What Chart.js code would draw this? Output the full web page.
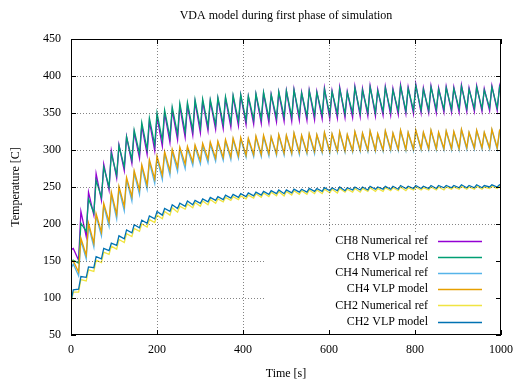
<!DOCTYPE html>
<html>
<head>
<meta charset="utf-8">
<script src="https://cdn.jsdelivr.net/npm/chart.js@4.4.1/dist/chart.umd.min.js"></script>
<style>
  html, body { margin: 0; padding: 0; background: #fff; }
  canvas { display: block; }
</style>
</head>
<body>
<canvas id="chart" width="513" height="386"></canvas>
<script>
// Time axis: one trough (start of heating) and one peak per cycle
const troughTimes = [
  0, 17.7, 35.4, 53.1, 70.8, 88.5, 106.2, 123.9, 141.6, 159.3,
  177, 194.7, 212.4, 230.1, 247.8, 265.5, 283.2, 300.9, 318.6, 336.3,
  354, 371.7, 389.4, 407.1, 424.8, 442.5, 460.2, 477.9, 495.6, 513.3,
  531, 548.7, 566.4, 584.1, 601.8, 619.5, 637.2, 654.9, 672.6, 690.3,
  708, 725.7, 743.4, 761.1, 778.8, 796.5, 814.2, 831.9, 849.6, 867.3,
  885, 902.7, 920.4, 938.1, 955.8, 973.5, 991.2, 1000
];
const peakTimes = [
  5.3, 23, 40.7, 58.4, 76.1, 93.8, 111.5, 129.2, 146.9, 164.6,
  182.3, 200, 217.7, 235.4, 253.1, 270.8, 288.5, 306.2, 323.9, 341.6,
  359.3, 377, 394.7, 412.4, 430.1, 447.8, 465.5, 483.2, 500.9, 518.6,
  536.3, 554, 571.7, 589.4, 607.1, 624.8, 642.5, 660.2, 677.9, 695.6,
  713.3, 731, 748.7, 766.4, 784.1, 801.8, 819.5, 837.2, 854.9, 872.6,
  890.3, 908, 925.7, 943.4, 961.1, 978.8, 996.5
];

// CH8
const ch8RefPeaks = [
  167, 217, 243, 268, 281, 299, 307, 318, 324, 333,
  339, 345, 350, 354, 359, 361, 365, 366, 366, 369,
  370, 372, 374, 372, 375, 377, 375, 378, 380, 382,
  378, 381, 379, 384, 380, 385, 379, 386, 383, 387,
  382, 386, 383, 388, 385, 389, 384, 387, 384, 386,
  385, 388, 384, 387, 383, 387, 386
];
const ch8RefTroughs = [
  165, 151, 183, 212, 232, 246, 262, 272, 282, 289,
  294, 299, 305, 310, 314, 317, 320, 323, 326, 328,
  329, 331, 333, 334, 335, 336, 337, 338, 339, 339,
  340, 340, 341, 342, 342, 343, 344, 344, 345, 346,
  346, 347, 347, 348, 349, 349, 350, 350, 350, 351,
  351, 351, 352, 352, 352, 353, 353, 376
];
const ch8VlpPeaks = [
  151, 201, 234, 259, 277, 295, 306, 318, 327, 337,
  343, 350, 354, 358, 363, 364, 368, 369, 368, 371,
  372, 374, 375, 373, 376, 378, 375, 379, 380, 381,
  377, 380, 378, 382, 379, 383, 378, 384, 381, 385,
  380, 384, 381, 386, 383, 387, 382, 385, 382, 384,
  383, 386, 382, 385, 381, 385, 384
];
const ch8VlpTroughs = [
  150, 147, 190, 215, 236, 250, 266, 277, 287, 295,
  301, 307, 313, 317, 321, 324, 327, 330, 332, 334,
  335, 337, 339, 340, 341, 342, 343, 344, 345, 345,
  346, 346, 347, 348, 348, 349, 349, 350, 350, 351,
  351, 352, 352, 353, 353, 354, 354, 354, 355, 355,
  355, 356, 356, 356, 356, 357, 357, 375
];

// CH4
const ch4RefPeaks = [
  146, 178, 198, 211, 225, 240, 248, 260, 269, 277,
  284, 289, 295, 298, 301, 302, 304, 306, 308, 310,
  312, 314, 315, 314, 317, 318, 317, 320, 319, 322,
  319, 321, 320, 323, 321, 324, 320, 324, 322, 325,
  321, 325, 322, 326, 323, 326, 323, 326, 323, 325,
  324, 327, 323, 326, 323, 327, 325
];
const ch4RefTroughs = [
  140, 130, 153, 169, 184, 197, 207, 218, 231, 240,
  247, 255, 260, 266, 271, 275, 279, 281, 283, 285,
  286, 287, 289, 290, 291, 291, 292, 293, 293, 294,
  294, 295, 295, 296, 296, 297, 297, 297, 298, 298,
  298, 298, 299, 299, 299, 299, 300, 300, 300, 300,
  300, 300, 301, 301, 301, 301, 301, 320
];
const ch4VlpPeaks = [
  150, 181, 201, 214, 228, 243, 251, 263, 272, 280,
  287, 292, 298, 301, 304, 305, 307, 309, 311, 312,
  314, 316, 317, 316, 319, 320, 318, 321, 320, 323,
  320, 322, 321, 324, 322, 325, 321, 325, 323, 326,
  322, 326, 323, 327, 324, 327, 324, 327, 324, 326,
  325, 328, 324, 327, 324, 328, 326
];
const ch4VlpTroughs = [
  148, 135, 158, 174, 189, 203, 213, 224, 237, 246,
  253, 261, 266, 272, 277, 281, 284, 286, 288, 289,
  290, 291, 292, 293, 294, 294, 295, 295, 296, 296,
  297, 297, 298, 298, 298, 299, 299, 299, 300, 300,
  300, 300, 301, 301, 301, 301, 302, 302, 302, 302,
  302, 302, 303, 303, 303, 303, 303, 322
];

// CH2
const ch2RefPeaks = [
  108, 125, 138, 151, 162, 170, 179, 187, 194, 200,
  206, 212, 217, 222, 224, 227, 229, 231, 233, 234,
  236, 237, 238, 239, 241, 242, 243, 244, 244, 245,
  245, 246, 246, 247, 247, 248, 247, 248, 248, 249,
  248, 249, 249, 250, 249, 250, 249, 250, 250, 250,
  250, 251, 250, 251, 250, 251, 251
];
const ch2RefTroughs = [
  93, 108, 123, 136, 148, 159, 166, 175, 183, 190,
  196, 202, 207, 212, 216, 220, 222, 224, 226, 228,
  230, 232, 233, 234, 235, 236, 237, 238, 238, 239,
  240, 240, 241, 241, 242, 242, 243, 243, 243, 244,
  244, 244, 245, 245, 245, 246, 246, 246, 246, 246,
  247, 247, 247, 247, 247, 248, 248, 250
];
const ch2VlpPeaks = [
  111, 129, 142, 156, 167, 174, 184, 192, 199, 205,
  211, 217, 221, 226, 228, 231, 232, 234, 236, 237,
  239, 240, 241, 242, 243, 244, 245, 246, 246, 247,
  247, 248, 248, 249, 249, 250, 249, 250, 250, 251,
  250, 251, 251, 252, 251, 252, 251, 252, 252, 252,
  252, 253, 252, 253, 252, 253, 253
];
const ch2VlpTroughs = [
  95, 112, 128, 141, 153, 164, 171, 180, 188, 195,
  201, 207, 212, 217, 221, 224, 226, 228, 230, 232,
  233, 235, 236, 237, 238, 239, 240, 241, 241, 242,
  243, 243, 244, 244, 245, 245, 245, 246, 246, 246,
  247, 247, 247, 247, 248, 248, 248, 248, 248, 249,
  249, 249, 249, 249, 249, 250, 250, 252
];

const xTicks = [0, 200, 400, 600, 800, 1000];
const yTicks = [50, 100, 150, 200, 250, 300, 350, 400, 450];

const seriesDefs = [
  { label: 'CH8 Numerical ref', color: '#9400d3', peaks: ch8RefPeaks, troughs: ch8RefTroughs },
  { label: 'CH8 VLP model',     color: '#009e73', peaks: ch8VlpPeaks, troughs: ch8VlpTroughs },
  { label: 'CH4 Numerical ref', color: '#56b4e9', peaks: ch4RefPeaks, troughs: ch4RefTroughs },
  { label: 'CH4 VLP model',     color: '#e69f00', peaks: ch4VlpPeaks, troughs: ch4VlpTroughs },
  { label: 'CH2 Numerical ref', color: '#f0e442', peaks: ch2RefPeaks, troughs: ch2RefTroughs },
  { label: 'CH2 VLP model',     color: '#0072b2', peaks: ch2VlpPeaks, troughs: ch2VlpTroughs }
];

const FONT = '12px "Liberation Serif", "Times New Roman", serif';

// Interleave troughs and peaks into one polyline
function buildPoints(troughs, peaks) {
  const pts = [];
  for (let k = 0; k < troughTimes.length; k++) {
    pts.push({ x: troughTimes[k], y: troughs[k] });
    if (k < peakTimes.length) pts.push({ x: peakTimes[k], y: peaks[k] });
  }
  return pts;
}

// Gnuplot-like frame, grid, labels and key
const frame = {
  id: 'frame',
  beforeDraw(chart) {
    const ctx = chart.ctx;
    ctx.save();
    ctx.fillStyle = '#fff';
    ctx.fillRect(0, 0, chart.width, chart.height);
    ctx.restore();
  },
  afterDatasetsDraw(chart) {
    const { ctx, chartArea: a, scales: { x, y } } = chart;
    const w = a.right - a.left, h = a.bottom - a.top;

    // grid, left out where the key sits
    const keyLeft = x.getPixelForValue(450);
    const keyTop = y.getPixelForValue(188);
    ctx.save();
    ctx.beginPath();
    ctx.rect(a.left, a.top, w, h);
    ctx.rect(keyLeft, keyTop, a.right - keyLeft, a.bottom - keyTop);
    ctx.clip('evenodd');
    ctx.strokeStyle = 'rgba(50,50,50,0.6)';
    ctx.lineWidth = 1;
    ctx.setLineDash([1, 2]);
    ctx.beginPath();
    xTicks.forEach(v => {
      const px = Math.round(x.getPixelForValue(v)) + 0.5;
      ctx.moveTo(px, a.top); ctx.lineTo(px, a.bottom);
    });
    yTicks.forEach(v => {
      const py = Math.round(y.getPixelForValue(v)) + 0.5;
      ctx.moveTo(a.left, py); ctx.lineTo(a.right, py);
    });
    ctx.stroke();
    ctx.restore();

    // border and inward ticks
    ctx.save();
    ctx.strokeStyle = '#000';
    ctx.lineWidth = 1;
    ctx.strokeRect(a.left + 0.5, a.top + 0.5, w - 1, h - 1);
    ctx.beginPath();
    xTicks.forEach(v => {
      const px = Math.round(x.getPixelForValue(v)) + 0.5;
      ctx.moveTo(px, a.bottom); ctx.lineTo(px, a.bottom - 5);
      ctx.moveTo(px, a.top); ctx.lineTo(px, a.top + 5);
    });
    yTicks.forEach(v => {
      const py = Math.round(y.getPixelForValue(v)) + 0.5;
      ctx.moveTo(a.left, py); ctx.lineTo(a.left + 5, py);
      ctx.moveTo(a.right, py); ctx.lineTo(a.right - 5, py);
    });
    ctx.stroke();

    // tick labels
    ctx.fillStyle = '#000';
    ctx.font = FONT;
    ctx.textBaseline = 'middle';
    ctx.textAlign = 'center';
    xTicks.forEach(v => ctx.fillText(String(v), x.getPixelForValue(v), a.bottom + 15));
    ctx.textAlign = 'right';
    yTicks.forEach(v => ctx.fillText(String(v), a.left - 10, y.getPixelForValue(v)));

    // titles
    ctx.textAlign = 'center';
    ctx.fillText('VDA model during first phase of simulation', (a.left + a.right) / 2, 16);
    ctx.fillText('Time [s]', (a.left + a.right) / 2, 374);
    ctx.save();
    ctx.translate(16, (a.top + a.bottom) / 2);
    ctx.rotate(-Math.PI / 2);
    ctx.fillText('Temperature [C]', 0, 0);
    ctx.restore();

    // key
    ctx.textAlign = 'right';
    seriesDefs.forEach((s, i) => {
      const ry = 241 + i * 16.1;
      ctx.fillStyle = '#000';
      ctx.fillText(s.label, 428, ry);
      ctx.strokeStyle = s.color;
      ctx.lineWidth = 1.5;
      ctx.beginPath();
      ctx.moveTo(438, Math.round(ry) + 0.5);
      ctx.lineTo(482, Math.round(ry) + 0.5);
      ctx.stroke();
    });
    ctx.restore();
  }
};

new Chart(document.getElementById('chart'), {
  type: 'line',
  data: {
    datasets: seriesDefs.map((s, i) => ({
      label: s.label,
      data: buildPoints(s.troughs, s.peaks),
      borderColor: s.color,
      borderWidth: 1.3,
      pointRadius: 0,
      tension: 0,
      fill: false,
      order: seriesDefs.length - i
    }))
  },
  options: {
    responsive: false,
    animation: false,
    devicePixelRatio: 1,
    layout: { padding: { left: 71, top: 39, right: 12, bottom: 51 } },
    plugins: { legend: { display: false }, title: { display: false }, tooltip: { enabled: false } },
    scales: {
      x: { type: 'linear', min: 0, max: 1000, display: false },
      y: { type: 'linear', min: 50, max: 450, display: false }
    }
  },
  plugins: [frame]
});
</script>
</body>
</html>
